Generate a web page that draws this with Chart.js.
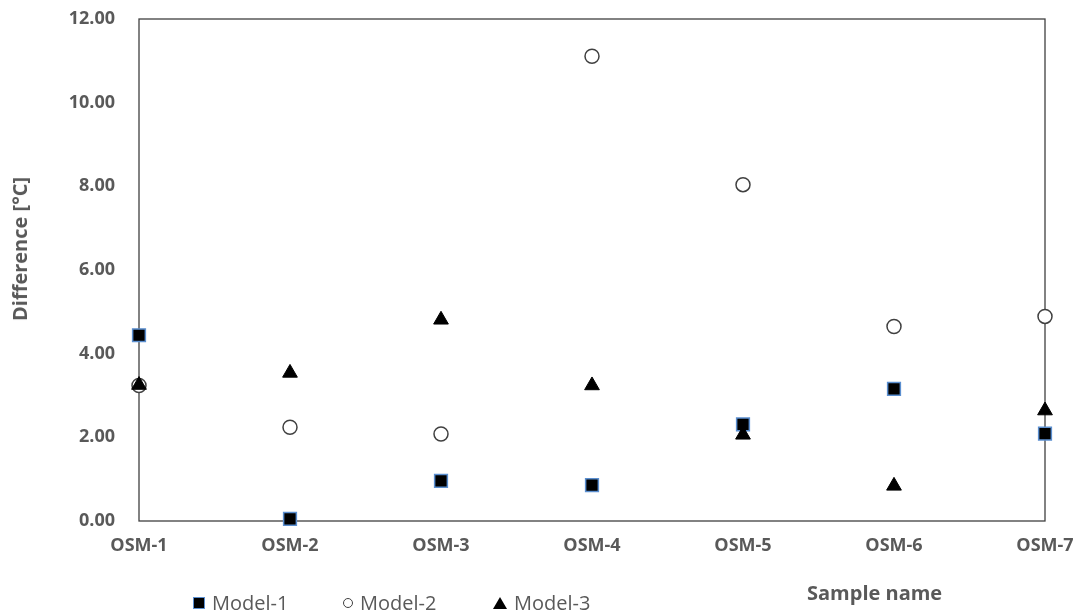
<!DOCTYPE html>
<html lang="en">
<head>
    <meta charset="UTF-8">
    <title>Difference by sample</title>
    <script src="https://cdn.jsdelivr.net/npm/chart.js"></script>
    <style>
        * { margin: 0; padding: 0; box-sizing: border-box; }
        body { background: #fff; font-family: "Open Sans", sans-serif; }
        #wrap { position: relative; width: 1078px; height: 614px; }
        #legend .item {
            position: absolute;
            top: 593px;
            height: 20px;
            display: flex;
            align-items: center;
            font-size: 20px;
            line-height: 20px;
            color: #595959;
        }
        #legend .mk { margin-right: 7px; }
        .mk-rect { width: 12px; height: 12px; background: #000; border: 1.5px solid #5b8fd0; }
        .mk-circle { width: 10px; height: 10px; border: 1.3px solid #404040; border-radius: 50%; background: #fff; }
        .mk-triangle { width: 0; height: 0; border-left: 7px solid transparent; border-right: 7px solid transparent; border-bottom: 12px solid #000; }
        .axis-title {
            position: absolute;
            font-size: 20px;
            line-height: 24px;
            font-weight: bold;
            color: #595959;
            white-space: nowrap;
        }
        #xTitle { left: 807px; top: 581px; }
        #yTitle { left: 20px; top: 249px; transform: translate(-50%, -50%) rotate(-90deg); }
    </style>
</head>
<body>
    <div id="wrap">
        <canvas id="chart"></canvas>
        <div id="legend"></div>
        <div id="xTitle" class="axis-title">Sample name</div>
        <div id="yTitle" class="axis-title">Difference [°C]</div>
    </div>

    <script>
        // data
        const sampleNames = ['OSM-1', 'OSM-2', 'OSM-3', 'OSM-4', 'OSM-5', 'OSM-6', 'OSM-7'];
        const model1 = [4.44, 0.05, 0.96, 0.86, 2.31, 3.16, 2.09];
        const model2 = [3.24, 2.24, 2.08, 11.11, 8.04, 4.65, 4.89];
        const model3 = [3.25, 3.54, 4.81, 3.24, 2.06, 0.84, 2.64];
        const seriesNames = ['Model-1', 'Model-2', 'Model-3'];

        const grey = '#595959';

        // box round the plot area
        const plotBox = {
            id: 'plotBox',
            beforeDatasetsDraw(chart) {
                const a = chart.chartArea;
                const ctx = chart.ctx;
                ctx.save();
                ctx.strokeStyle = '#404040';
                ctx.lineWidth = 1.3;
                ctx.strokeRect(a.left, a.top, a.right - a.left, a.bottom - a.top);
                ctx.restore();
            }
        };

        const ctx = document.getElementById('chart').getContext('2d');
        const chart = new Chart(ctx, {
            type: 'line',
            data: {
                labels: sampleNames,
                datasets: [{
                    label: seriesNames[0],
                    data: model1,
                    order: 3,
                    showLine: false,
                    clip: false,
                    pointStyle: 'rect',
                    pointRadius: 9,
                    pointBackgroundColor: '#000',
                    pointBorderColor: '#5b8fd0',
                    pointBorderWidth: 1.5
                }, {
                    label: seriesNames[1],
                    data: model2,
                    order: 2,
                    showLine: false,
                    clip: false,
                    pointStyle: 'circle',
                    pointRadius: 7,
                    pointBackgroundColor: '#fff',
                    pointBorderColor: '#404040',
                    pointBorderWidth: 1.5
                }, {
                    label: seriesNames[2],
                    data: model3,
                    order: 1,
                    showLine: false,
                    clip: false,
                    pointStyle: 'triangle',
                    pointRadius: 8.5,
                    pointBackgroundColor: '#000',
                    pointBorderColor: '#000',
                    pointBorderWidth: 1
                }]
            },
            options: {
                responsive: true,
                maintainAspectRatio: false,
                animation: false,
                events: [],
                layout: { autoPadding: false, padding: { left: 4, top: 19, right: 33, bottom: 0 } },
                plugins: {
                    legend: { display: false },
                    tooltip: { enabled: false }
                },
                scales: {
                    x: {
                        offset: false,
                        grid: { display: false, drawTicks: false },
                        border: { display: false },
                        ticks: {
                            color: grey,
                            font: { family: 'Open Sans', size: 18, weight: 'bold' },
                            padding: 14,
                            autoSkip: false,
                            maxRotation: 0
                        },
                        afterFit(scale) {
                            scale.height = 93;
                            scale.paddingLeft = 0;
                            scale.paddingRight = 0;
                        }
                    },
                    y: {
                        min: 0,
                        max: 12,
                        grid: { display: false, drawTicks: false },
                        border: { display: false },
                        ticks: {
                            stepSize: 2,
                            color: grey,
                            font: { family: 'Open Sans', size: 18, weight: 'bold' },
                            padding: 24,
                            callback: v => v.toFixed(2)
                        },
                        afterFit(scale) {
                            scale.width = 135;
                            scale.paddingTop = 0;
                            scale.paddingBottom = 0;
                        }
                    }
                }
            },
            plugins: [plotBox]
        });

        // legend below the plot, built from the datasets
        const legend = document.getElementById('legend');
        const markerClass = ['mk-rect', 'mk-circle', 'mk-triangle'];
        chart.data.datasets.forEach((ds, i) => {
            const item = document.createElement('div');
            item.className = 'item';
            item.style.left = (193 + i * 150) + 'px';
            const mk = document.createElement('span');
            mk.className = 'mk ' + markerClass[i];
            const txt = document.createElement('span');
            txt.textContent = ds.label;
            item.appendChild(mk);
            item.appendChild(txt);
            legend.appendChild(item);
        });
    </script>
</body>
</html>
